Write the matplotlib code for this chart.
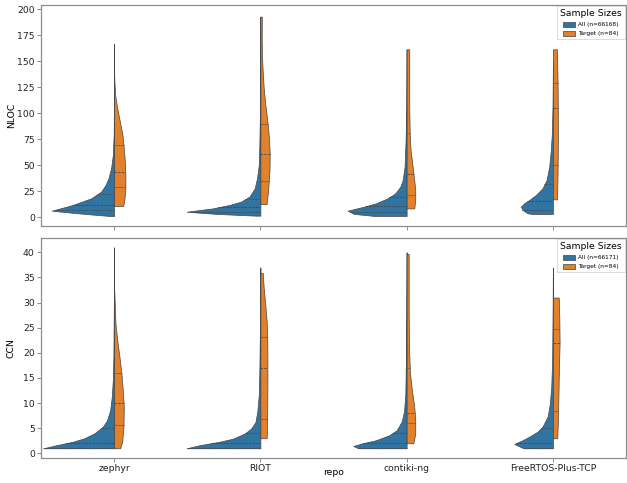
import numpy as np
import matplotlib
matplotlib.use("Agg")
import matplotlib.pyplot as plt
from matplotlib.patches import Patch

repos = ["zephyr", "RIOT", "contiki-ng", "FreeRTOS-Plus-TCP"]

# violin half profiles: (value, half width in category units)
nloc_all = [
    [(1, 0.03), (2.5, 0.16), (4, 0.28), (6.1, 0.426), (11.6, 0.283), (18, 0.157), (24.4, 0.089),
     (30.8, 0.059), (37.2, 0.039), (46.9, 0.021), (59.7, 0.009), (79, 0.003), (120, 0.001), (167, 0.0)],
    [(1.3, 0.03), (3, 0.3), (5.1, 0.504), (8.3, 0.326), (11.6, 0.212), (14.8, 0.132), (19.6, 0.075),
     (27.6, 0.039), (37.3, 0.023), (50, 0.011), (69.3, 0.007), (108, 0.002), (193, 0.0)],
    [(1, 0.22), (3, 0.36), (6.1, 0.403), (10, 0.29), (13.2, 0.21), (18, 0.13), (22.8, 0.078),
     (29.2, 0.043), (35.6, 0.027), (48.5, 0.014), (74, 0.007), (106, 0.002), (161.5, 0.0)],
    [(2.9, 0.14), (3.6, 0.174), (6.8, 0.207), (10, 0.219), (13.2, 0.196), (16.3, 0.162), (21.2, 0.116),
     (27.6, 0.071), (35.6, 0.043), (48.5, 0.025), (64.5, 0.014), (80.6, 0.007), (110, 0.002), (150, 0.0)],
]
nloc_target = [
    [(10.6, 0.062), (18, 0.071), (27.9, 0.077), (40.8, 0.077), (53.6, 0.073), (66.4, 0.066), (79.2, 0.057),
     (92.1, 0.039), (104.9, 0.021), (117.7, 0.007), (130, 0.002), (140, 0.0)],
    [(12.5, 0.043), (24.4, 0.052), (43.6, 0.062), (59.7, 0.064), (75.8, 0.059), (91.9, 0.048), (108, 0.034),
     (124, 0.023), (140, 0.016), (156, 0.011), (172, 0.009), (193, 0.01)],
    [(8.3, 0.052), (16.3, 0.059), (26, 0.059), (35.6, 0.052), (48.5, 0.041), (64.5, 0.027), (80.6, 0.021),
     (106, 0.018), (138, 0.018), (161.5, 0.018)],
    [(17, 0.028), (40, 0.032), (70, 0.034), (100, 0.034), (130, 0.032), (161.5, 0.028)],
]
ccn_all = [
    [(1, 0.483), (1.6, 0.397), (2.3, 0.283), (3.0, 0.203), (4.0, 0.134), (5.3, 0.077), (6.6, 0.048),
     (8.6, 0.027), (11.3, 0.016), (14.6, 0.009), (19.3, 0.005), (30, 0.002), (41, 0.0)],
    [(1, 0.504), (1.6, 0.417), (2.3, 0.28), (2.9, 0.189), (3.9, 0.109), (4.9, 0.064), (6.2, 0.034),
     (8.3, 0.021), (11.6, 0.011), (16.3, 0.007), (25, 0.003), (37, 0.0)],
    [(1, 0.33), (1.46, 0.365), (2.0, 0.301), (2.6, 0.21), (3.6, 0.118), (4.6, 0.068), (6.3, 0.034),
     (8.3, 0.018), (11.6, 0.009), (18.3, 0.005), (28, 0.002), (40, 0.0)],
    [(1, 0.2), (1.86, 0.264), (2.6, 0.207), (3.3, 0.162), (4.3, 0.105), (5.3, 0.071), (7.3, 0.036),
     (9.8, 0.021), (13.3, 0.011), (18.6, 0.005), (28, 0.002), (37, 0.0)],
]
ccn_target = [
    [(1, 0.041), (2.3, 0.055), (5.3, 0.064), (9.3, 0.066), (12.6, 0.059), (15.9, 0.05), (19.3, 0.036),
     (22.6, 0.021), (25.9, 0.009), (29.3, 0.005), (33, 0.0)],
    [(3, 0.043), (6.2, 0.046), (12.8, 0.048), (19.5, 0.048), (22.8, 0.047), (26.2, 0.043), (29.5, 0.034),
     (32.8, 0.023), (35.9, 0.016)],
    [(2, 0.046), (3.9, 0.059), (6.6, 0.059), (9.3, 0.052), (12.6, 0.036), (15.9, 0.023), (21.2, 0.016),
     (27.9, 0.014), (39.7, 0.014)],
    [(3, 0.03), (8, 0.036), (15, 0.04), (22, 0.046), (27, 0.044), (31, 0.04)],
]

# quartiles (Q1, median, Q3)
nloc_all_q = [(7, 12, 22), (4.8, 9.3, 17), (4.8, 10.3, 19), (7, 15, 31.5)]
nloc_target_q = [(28.6, 43, 69), (34.4, 61, 89.3), (21, 41.4, 81), (50.4, 104.7, 129)]
ccn_all_q = [(1, 2, 5), (1, 2, 4), (1, 2, 4), (1, 2, 5)]
ccn_target_q = [(5.6, 10, 16), (6.8, 17, 23.2), (6.1, 8.1, 16.9), (8.4, 22, 24.8)]

n_all = [66168, 66171]
n_target = [84, 84]

BLUE = "#3274a1"
ORANGE = "#e1812c"
EDGE = "#444444"
SPINE = "#8c8c8c"
FS = 6.7


def draw_half(ax, x, profile, quarts, color, side):
    ys = np.array([p[0] for p in profile])
    ws = np.array([p[1] for p in profile])
    if side < 0:
        ax.fill_betweenx(ys, x - ws, x, facecolor=color, edgecolor=EDGE, linewidth=0.5, zorder=2)
    else:
        ax.fill_betweenx(ys, x, x + ws, facecolor=color, edgecolor=EDGE, linewidth=0.5, zorder=2)
    for i, q in enumerate(quarts):
        w = np.interp(q, ys, ws)
        ls = (0, (3, 1.5)) if i == 1 else (0, (1, 0.8))
        x0, x1 = (x - w, x) if side < 0 else (x, x + w)
        ax.plot([x0, x1], [q, q], color=EDGE, linewidth=0.6, linestyle=ls, zorder=3)


fig = plt.figure(figsize=(6.27, 4.83), dpi=100)
ax1 = fig.add_axes([0.0654, 0.532, 0.933, 0.4576])
ax2 = fig.add_axes([0.0654, 0.0518, 0.933, 0.4554])

panels = [
    (ax1, nloc_all, nloc_target, nloc_all_q, nloc_target_q, "NLOC", (-8.7, 204.2), np.arange(0, 201, 25), n_all[0]),
    (ax2, ccn_all, ccn_target, ccn_all_q, ccn_target_q, "CCN", (-0.93, 42.85), np.arange(0, 41, 5), n_all[1]),
]

for ax, all_p, tgt_p, all_q, tgt_q, label, ylim, yticks, nall in panels:
    for i in range(len(repos)):
        draw_half(ax, i, all_p[i], all_q[i], BLUE, -1)
        draw_half(ax, i, tgt_p[i], tgt_q[i], ORANGE, 1)
    ax.set_xlim(-0.5, 3.5)
    ax.set_ylim(*ylim)
    ax.set_yticks(yticks)
    ax.set_xticks(range(len(repos)))
    ax.set_ylabel(label, fontsize=FS)
    ax.yaxis.set_label_coords(-0.043, 0.5)
    for s in ax.spines.values():
        s.set_color(SPINE)
        s.set_linewidth(0.9)
    ax.tick_params(labelsize=FS, color=SPINE, length=3, width=0.7, pad=1.5, labelcolor="#222222")
    handles = [
        Patch(facecolor=BLUE, edgecolor=EDGE, linewidth=0.5, label=f"All (n={nall})"),
        Patch(facecolor=ORANGE, edgecolor=EDGE, linewidth=0.5, label=f"Target (n={n_target[0]})"),
    ]
    leg = ax.legend(handles=handles, title="Sample Sizes", loc="upper right", fontsize=4.2,
                    title_fontsize=6.7, handlelength=2.0, handleheight=0.9, borderpad=0.5,
                    labelspacing=0.6, handletextpad=0.6, borderaxespad=0.25, fancybox=False)
    leg.get_frame().set_edgecolor("#cccccc")
    leg.get_frame().set_linewidth(0.6)

ax1.set_xticklabels([])
ax2.set_xticklabels(repos)
ax2.set_xlabel("repo", fontsize=FS)
ax2.xaxis.set_label_coords(0.5, -0.045)

fig.savefig("out.png", dpi=100)
